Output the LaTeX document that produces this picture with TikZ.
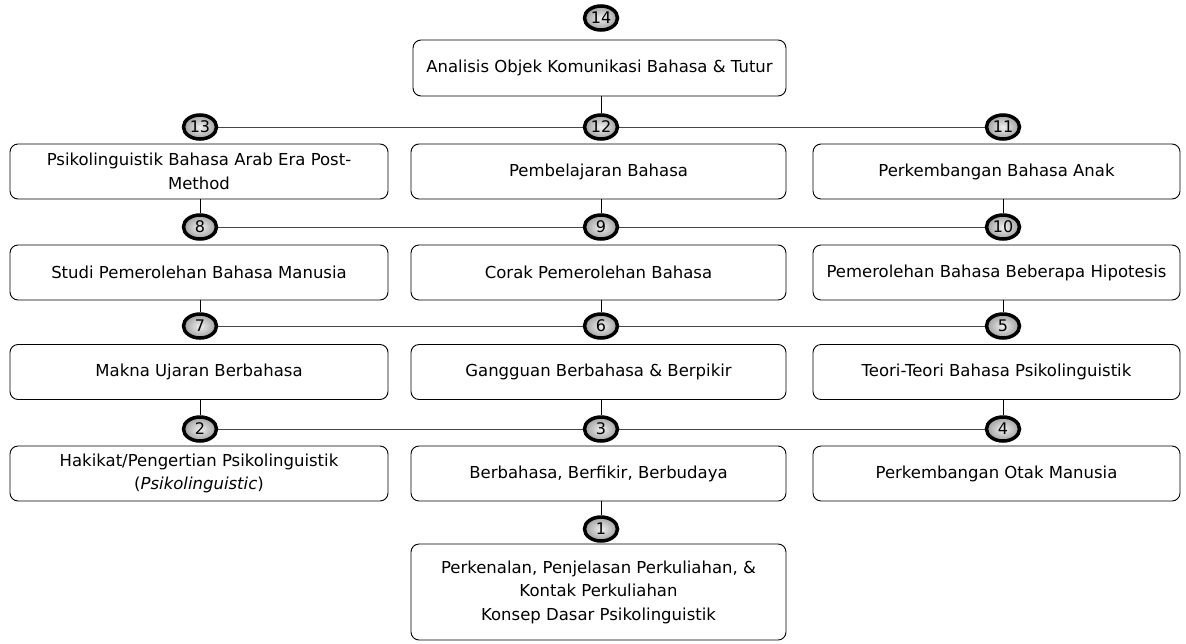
\documentclass[tikz,border=0pt]{standalone}
\usepackage{fontspec}
\setmainfont{DejaVu Sans}
\usetikzlibrary{shapes.geometric,backgrounds}
\tikzset{
  box/.style={draw=black, line width=0.9pt, rounded corners=8pt, align=center,
    font=\fontsize{16.5}{23.5}\selectfont, inner sep=0pt, minimum height=55pt},
  lbox/.style={box, minimum width=378pt},
  mbox/.style={box, minimum width=375pt},
  rbox/.style={box, minimum width=367pt},
  circ/.style={ellipse, draw=black, line width=3.5pt, minimum width=33pt, minimum height=24pt,
    inner sep=0pt, inner color=gray!12, outer color=gray!75, font=\fontsize{16}{16}\selectfont},
  hline/.style={draw=gray!55!black, line width=1pt},
  vline/.style={draw=black, line width=0.9pt}
}
\begin{document}
\begin{tikzpicture}[x=1pt,y=-1pt]
\useasboundingbox (0,0) rectangle (1186,643);
% boxes
\node[box, minimum width=373pt, minimum height=56pt] (b14) at (599.5,68) {Analisis Objek Komunikasi Bahasa \& Tutur};
\node[lbox] (b13) at (199,171.5) {Psikolinguistik Bahasa Arab Era Post-\\Method};
\node[mbox] (b12) at (598.5,171.5) {Pembelajaran Bahasa};
\node[rbox] (b11) at (996.5,171.5) {Perkembangan Bahasa Anak};
\node[lbox] (b8) at (199,272.5) {Studi Pemerolehan Bahasa Manusia};
\node[mbox] (b9) at (598.5,272.5) {Corak Pemerolehan Bahasa};
\node[rbox] (b10) at (996.5,272.5) {Pemerolehan Bahasa Beberapa Hipotesis};
\node[lbox] (b7) at (199,372) {Makna Ujaran Berbahasa};
\node[mbox] (b6) at (598.5,372) {Gangguan Berbahasa \& Berpikir};
\node[rbox] (b5) at (996.5,372) {Teori-Teori Bahasa Psikolinguistik};
\node[lbox] (b2) at (199,473.5) {Hakikat/Pengertian Psikolinguistik\\(\textit{Psikolinguistic})};
\node[mbox] (b3) at (598.5,473.5) {Berbahasa, Berfikir, Berbudaya};
\node[rbox] (b4) at (996.5,473.5) {Perkembangan Otak Manusia};
\node[mbox, minimum height=96pt] (b1) at (598.5,592) {Perkenalan, Penjelasan Perkuliahan, \&\\Kontak Perkuliahan\\Konsep Dasar Psikolinguistik};
% circles
\node[circ] (c14) at (601,18) {14};
\node[circ] (c13) at (200,127) {13};
\node[circ] (c12) at (601,127) {12};
\node[circ] (c11) at (1003,127) {11};
\node[circ] (c8) at (200,227) {8};
\node[circ] (c9) at (601,227) {9};
\node[circ] (c10) at (1003,227) {10};
\node[circ] (c7) at (200,326) {7};
\node[circ] (c6) at (601,326) {6};
\node[circ] (c5) at (1003,326) {5};
\node[circ] (c2) at (200,429) {2};
\node[circ] (c3) at (601,429) {3};
\node[circ] (c4) at (1003,429) {4};
\node[circ] (c1) at (601,529) {1};
% connectors
\begin{scope}[on background layer]
\fill[white] (0,0) rectangle (1186,643);
\draw[hline] (c13) -- (c12) -- (c11);
\draw[hline] (c8) -- (c9) -- (c10);
\draw[hline] (c7) -- (c6) -- (c5);
\draw[hline] (c2) -- (c3) -- (c4);
\draw[vline] (c12 |- b14.south) -- (c12);
\draw[vline] (c8 |- b13.south) -- (c8);
\draw[vline] (c9 |- b12.south) -- (c9);
\draw[vline] (c10 |- b11.south) -- (c10);
\draw[vline] (c7 |- b8.south) -- (c7);
\draw[vline] (c6 |- b9.south) -- (c6);
\draw[vline] (c5 |- b10.south) -- (c5);
\draw[vline] (c2 |- b7.south) -- (c2);
\draw[vline] (c3 |- b6.south) -- (c3);
\draw[vline] (c4 |- b5.south) -- (c4);
\draw[vline] (c1 |- b3.south) -- (c1);
\end{scope}
\end{tikzpicture}
\end{document}
